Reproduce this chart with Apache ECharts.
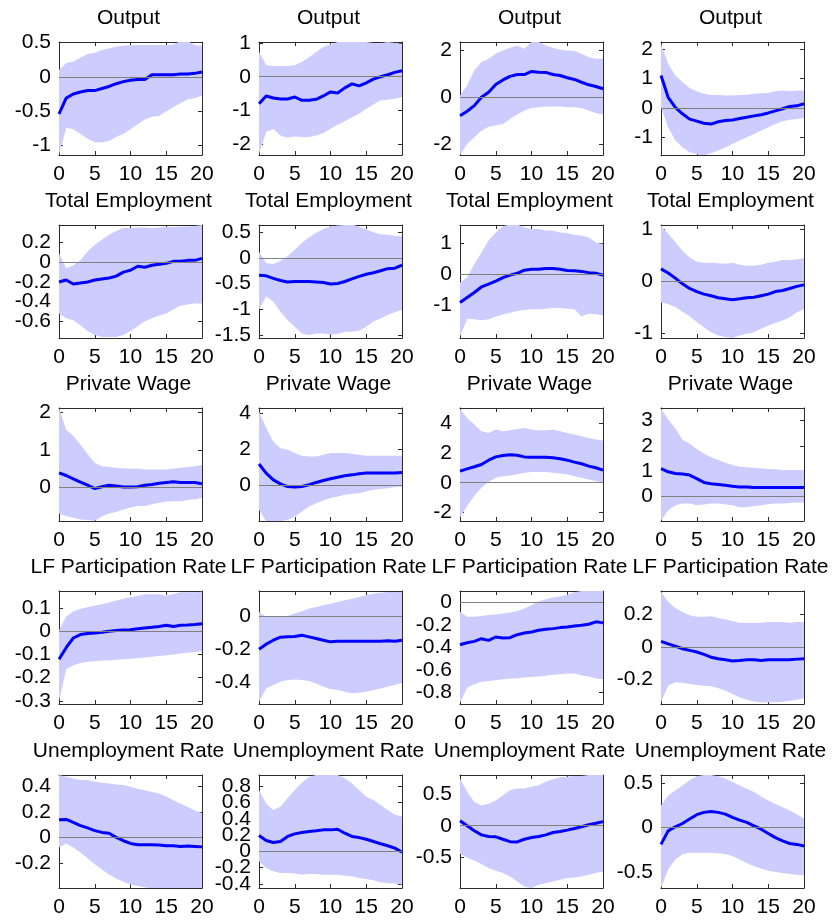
<!DOCTYPE html>
<html>
<head>
<meta charset="utf-8">
<script src="https://cdn.jsdelivr.net/npm/echarts@6/dist/echarts.min.js"></script>
<style>
html,body{margin:0;padding:0;background:#fff;}
#chart{width:834px;height:922px;}
</style>
</head>
<body>
<div id="chart"></div>
<script>
// Horizon (quarters)
const horizon = ['0','1','2','3','4','5','6','7','8','9','10','11','12','13','14','15','16','17','18','19','20'];
const rowTitles = ['Output','Total Employment','Private Wage','LF Participation Rate','Unemployment Rate'];

// ---- Output ----
const outputMid1 = [-0.54,-0.31,-0.25,-0.22,-0.2,-0.2,-0.17,-0.14,-0.1,-0.07,-0.05,-0.04,-0.04,0.03,0.03,0.03,0.03,0.04,0.04,0.05,0.07];
const outputHi1  = [0.1,0.2,0.22,0.28,0.33,0.35,0.39,0.41,0.44,0.45,0.46,0.46,0.46,0.46,0.46,0.46,0.47,0.52,0.52,0.46,0.45];
const outputLo1  = [-1.13,-0.74,-0.76,-0.83,-0.9,-0.95,-0.95,-0.93,-0.87,-0.83,-0.76,-0.69,-0.62,-0.58,-0.57,-0.5,-0.44,-0.38,-0.33,-0.31,-0.27];
const outputMid2 = [-0.8,-0.57,-0.63,-0.66,-0.66,-0.6,-0.7,-0.7,-0.67,-0.57,-0.45,-0.48,-0.33,-0.21,-0.27,-0.18,-0.07,0,0.06,0.13,0.18];
const outputHi2  = [0.75,0.34,0.32,0.32,0.32,0.34,0.44,0.58,0.73,0.88,0.96,1.03,1.03,1.03,1.03,1.03,1.0,0.99,1.03,1.0,0.98];
const outputLo2  = [-2.29,-1.64,-1.54,-1.74,-1.81,-1.77,-1.79,-1.79,-1.74,-1.67,-1.54,-1.42,-1.32,-1.2,-1.1,-0.95,-0.82,-0.7,-0.68,-0.65,-0.6];
const outputMid3 = [-0.79,-0.6,-0.36,0,0.21,0.54,0.74,0.89,0.97,0.97,1.1,1.07,1.06,0.97,0.93,0.83,0.76,0.64,0.53,0.46,0.36];
const outputHi3  = [0.07,0.5,1.14,1.5,1.64,1.86,2.0,2.11,2.21,2.07,2.36,2.36,2.21,2.11,2.03,2.0,1.97,1.86,1.71,1.64,1.64];
const outputLo3  = [-2.47,-2.0,-1.71,-1.43,-1.26,-1.21,-1.14,-0.93,-0.74,-0.57,-0.46,-0.43,-0.4,-0.4,-0.4,-0.43,-0.43,-0.46,-0.57,-0.67,-0.74];
const outputMid4 = [1.1,0.36,0.02,-0.2,-0.38,-0.45,-0.52,-0.55,-0.47,-0.43,-0.41,-0.36,-0.32,-0.27,-0.23,-0.17,-0.1,-0.03,0.05,0.07,0.14];
const outputHi4  = [2.18,1.5,1.1,0.88,0.68,0.57,0.48,0.44,0.44,0.42,0.42,0.44,0.45,0.48,0.5,0.51,0.57,0.59,0.57,0.59,0.59];
const outputLo4  = [0.02,-0.66,-1.11,-1.34,-1.51,-1.57,-1.62,-1.54,-1.45,-1.34,-1.23,-1.11,-1.0,-0.89,-0.77,-0.66,-0.55,-0.45,-0.4,-0.38,-0.34];

// ---- Total Employment ----
const employMid1 = [-0.2,-0.18,-0.22,-0.21,-0.2,-0.18,-0.17,-0.16,-0.14,-0.1,-0.08,-0.04,-0.05,-0.03,-0.02,-0.01,0.01,0.01,0.02,0.02,0.04];
const employHi1  = [0.09,-0.06,-0.03,0.02,0.11,0.18,0.23,0.28,0.32,0.35,0.35,0.355,0.355,0.35,0.355,0.36,0.36,0.365,0.365,0.37,0.38];
const employLo1  = [-0.52,-0.57,-0.59,-0.64,-0.7,-0.74,-0.76,-0.76,-0.76,-0.74,-0.7,-0.65,-0.6,-0.57,-0.54,-0.52,-0.48,-0.44,-0.43,-0.42,-0.42];
const employMid2 = [-0.34,-0.35,-0.4,-0.44,-0.47,-0.46,-0.46,-0.46,-0.47,-0.48,-0.51,-0.5,-0.46,-0.41,-0.36,-0.32,-0.29,-0.25,-0.21,-0.2,-0.14];
const employHi2  = [0.12,-0.1,-0.12,-0.06,0.03,0.16,0.29,0.4,0.49,0.56,0.61,0.63,0.64,0.65,0.61,0.55,0.5,0.46,0.45,0.43,0.42];
const employLo2  = [-1.01,-0.75,-0.85,-1.05,-1.21,-1.34,-1.47,-1.5,-1.47,-1.47,-1.49,-1.48,-1.44,-1.44,-1.42,-1.34,-1.24,-1.18,-1.11,-1.06,-1.01];
const employMid3 = [-0.91,-0.75,-0.59,-0.41,-0.32,-0.22,-0.11,-0.03,0.03,0.13,0.16,0.16,0.18,0.18,0.16,0.12,0.11,0.09,0.05,0.03,-0.03];
const employHi3  = [-0.27,-0.11,0.32,0.7,1.08,1.34,1.54,1.6,1.6,1.5,1.45,1.45,1.4,1.4,1.34,1.32,1.26,1.24,1.18,1.02,0.97];
const employLo3  = [-2.0,-1.43,-1.45,-1.48,-1.45,-1.37,-1.29,-1.24,-1.18,-1.15,-1.13,-1.13,-1.11,-1.09,-1.09,-1.11,-1.13,-1.35,-1.27,-1.29,-1.32];
const employMid4 = [0.24,0.16,0.06,-0.05,-0.14,-0.2,-0.25,-0.28,-0.32,-0.34,-0.36,-0.34,-0.32,-0.31,-0.28,-0.25,-0.2,-0.18,-0.14,-0.1,-0.07];
const employHi4  = [1.08,0.92,0.76,0.59,0.46,0.38,0.36,0.36,0.35,0.34,0.36,0.32,0.3,0.3,0.32,0.36,0.38,0.41,0.41,0.42,0.45];
const employLo4  = [-0.41,-0.44,-0.5,-0.59,-0.68,-0.79,-0.89,-0.99,-1.05,-1.08,-1.1,-1.05,-1.02,-0.99,-0.92,-0.86,-0.81,-0.76,-0.7,-0.6,-0.54];

// ---- Private Wage ----
const wageMid1 = [0.38,0.31,0.22,0.13,0.05,-0.04,0.01,0.05,0.03,0,0,0.01,0.05,0.07,0.1,0.12,0.14,0.12,0.12,0.12,0.09];
const wageHi1  = [2.12,1.54,1.37,1.14,0.88,0.65,0.56,0.54,0.52,0.5,0.5,0.49,0.47,0.47,0.47,0.47,0.5,0.52,0.54,0.56,0.59];
const wageLo1  = [-0.71,-0.78,-0.82,-0.87,-0.88,-0.91,-0.78,-0.71,-0.67,-0.6,-0.55,-0.51,-0.51,-0.46,-0.42,-0.39,-0.38,-0.38,-0.35,-0.33,-0.29];
const wageMid2 = [1.19,0.69,0.31,0.09,-0.06,-0.09,-0.06,0.04,0.17,0.28,0.37,0.46,0.54,0.59,0.65,0.69,0.69,0.69,0.69,0.7,0.72];
const wageHi2  = [4.1,3.2,2.44,2.07,1.98,1.8,1.65,1.61,1.61,1.7,1.8,1.8,1.8,1.76,1.7,1.65,1.65,1.65,1.65,1.65,1.65];
const wageLo2  = [-1.35,-2.0,-2.0,-2.0,-1.9,-1.72,-1.44,-1.17,-0.98,-0.83,-0.7,-0.61,-0.52,-0.46,-0.43,-0.33,-0.24,-0.2,-0.15,-0.09,-0.06];
const wageMid3 = [0.78,0.93,1.07,1.22,1.51,1.73,1.82,1.87,1.84,1.73,1.71,1.71,1.71,1.67,1.6,1.51,1.38,1.27,1.11,1.0,0.84];
const wageHi3  = [4.93,4.33,3.89,3.44,3.33,3.56,3.44,3.51,3.6,3.67,3.56,3.51,3.51,3.56,3.44,3.33,3.22,3.11,3.0,2.89,2.82];
const wageLo3  = [-2.33,-1.56,-0.89,-0.33,0.07,0.33,0.44,0.49,0.56,0.67,0.71,0.71,0.71,0.67,0.62,0.56,0.44,0.33,0.22,0.11,0];
const wageMid4 = [1.1,0.97,0.9,0.88,0.84,0.7,0.55,0.5,0.47,0.44,0.4,0.37,0.37,0.35,0.35,0.35,0.35,0.35,0.35,0.35,0.35];
const wageHi4  = [3.47,3.04,2.7,2.24,2.08,1.87,1.7,1.55,1.44,1.33,1.24,1.17,1.15,1.13,1.1,1.08,1.07,1.04,1.04,1.04,1.04];
const wageLo4  = [-0.96,-0.56,-0.36,-0.29,-0.29,-0.36,-0.33,-0.29,-0.29,-0.33,-0.36,-0.43,-0.43,-0.39,-0.36,-0.32,-0.29,-0.29,-0.27,-0.25,-0.25];

// ---- LF Participation Rate ----
const lfprMid1 = [-0.121,-0.071,-0.029,-0.014,-0.01,-0.007,-0.004,0,0.003,0.006,0.007,0.011,0.014,0.017,0.021,0.026,0.021,0.026,0.027,0.029,0.033];
const lfprHi1  = [0.003,0.064,0.086,0.097,0.104,0.111,0.117,0.124,0.133,0.14,0.147,0.154,0.16,0.16,0.16,0.154,0.161,0.169,0.169,0.169,0.171];
const lfprLo1  = [-0.3,-0.164,-0.147,-0.137,-0.131,-0.129,-0.126,-0.126,-0.123,-0.121,-0.119,-0.116,-0.113,-0.11,-0.107,-0.103,-0.1,-0.096,-0.093,-0.089,-0.086];
const lfprMid2 = [-0.2,-0.17,-0.146,-0.128,-0.126,-0.124,-0.116,-0.126,-0.136,-0.146,-0.156,-0.152,-0.152,-0.152,-0.152,-0.152,-0.152,-0.152,-0.15,-0.152,-0.146];
const lfprHi2  = [0.024,-0.006,-0.006,-0.002,0,0.014,0.028,0.044,0.054,0.064,0.074,0.084,0.094,0.104,0.114,0.124,0.134,0.14,0.144,0.144,0.144];
const lfprLo2  = [-0.516,-0.436,-0.416,-0.396,-0.386,-0.382,-0.386,-0.392,-0.406,-0.426,-0.44,-0.446,-0.456,-0.466,-0.462,-0.456,-0.446,-0.436,-0.426,-0.416,-0.402];
const lfprMid3 = [-0.376,-0.358,-0.346,-0.322,-0.337,-0.307,-0.316,-0.313,-0.287,-0.272,-0.263,-0.248,-0.239,-0.233,-0.224,-0.218,-0.209,-0.203,-0.194,-0.173,-0.182];
const lfprHi3  = [-0.084,-0.128,-0.128,-0.122,-0.113,-0.107,-0.099,-0.09,-0.078,-0.054,-0.024,0.006,0.027,0.042,0.051,0.066,0.09,0.1,0.1,0.1,0.1];
const lfprLo3  = [-0.89,-0.755,-0.725,-0.704,-0.696,-0.69,-0.68,-0.675,-0.672,-0.666,-0.66,-0.657,-0.65,-0.642,-0.636,-0.63,-0.63,-0.645,-0.657,-0.675,-0.68];
const lfprMid4 = [0.035,0.02,0.006,-0.01,-0.02,-0.03,-0.045,-0.062,-0.072,-0.078,-0.085,-0.082,-0.078,-0.078,-0.082,-0.078,-0.078,-0.078,-0.078,-0.074,-0.072];
const lfprHi4  = [0.34,0.278,0.241,0.216,0.196,0.186,0.186,0.19,0.179,0.171,0.159,0.15,0.148,0.148,0.15,0.155,0.155,0.155,0.15,0.155,0.155];
const lfprLo4  = [-0.34,-0.237,-0.216,-0.22,-0.227,-0.233,-0.237,-0.241,-0.252,-0.268,-0.289,-0.309,-0.324,-0.334,-0.34,-0.34,-0.34,-0.336,-0.33,-0.324,-0.315];

// ---- Unemployment Rate ----
const unempMid1 = [0.137,0.14,0.118,0.092,0.074,0.053,0.039,0.032,0,-0.026,-0.047,-0.058,-0.058,-0.058,-0.06,-0.066,-0.066,-0.071,-0.068,-0.071,-0.074];
const unempHi1  = [0.487,0.474,0.46,0.447,0.447,0.434,0.426,0.42,0.413,0.408,0.395,0.38,0.368,0.355,0.342,0.32,0.29,0.263,0.237,0.21,0.19];
const unempLo1  = [-0.079,-0.047,-0.079,-0.118,-0.163,-0.21,-0.25,-0.29,-0.32,-0.347,-0.368,-0.38,-0.39,-0.4,-0.4,-0.4,-0.4,-0.4,-0.4,-0.4,-0.4];
const unempMid2 = [0.196,0.135,0.11,0.122,0.184,0.216,0.233,0.245,0.253,0.265,0.265,0.273,0.224,0.184,0.17,0.15,0.122,0.094,0.07,0.04,-0.01];
const unempHi2  = [0.755,0.59,0.51,0.55,0.653,0.755,0.845,0.92,0.94,0.94,0.94,0.94,0.9,0.837,0.755,0.673,0.633,0.57,0.51,0.45,0.43];
const unempLo2  = [-0.122,-0.204,-0.245,-0.265,-0.265,-0.273,-0.286,-0.278,-0.278,-0.286,-0.286,-0.286,-0.298,-0.306,-0.327,-0.339,-0.355,-0.38,-0.388,-0.396,-0.408];
const unempMid3 = [0.08,0,-0.08,-0.145,-0.172,-0.177,-0.215,-0.253,-0.258,-0.215,-0.188,-0.172,-0.145,-0.108,-0.091,-0.07,-0.043,-0.016,0.016,0.038,0.065];
const unempHi3  = [0.75,0.54,0.376,0.32,0.35,0.4,0.484,0.565,0.59,0.59,0.62,0.645,0.7,0.737,0.77,0.78,0.79,0.79,0.806,0.806,0.806];
const unempLo3  = [-0.446,-0.51,-0.554,-0.608,-0.672,-0.715,-0.753,-0.806,-0.887,-0.968,-0.99,-0.94,-0.914,-0.887,-0.86,-0.833,-0.823,-0.806,-0.78,-0.753,-0.726];
const unempMid4 = [-0.19,-0.038,0.008,0.045,0.095,0.144,0.17,0.18,0.17,0.15,0.114,0.083,0.057,0.019,-0.019,-0.068,-0.114,-0.15,-0.18,-0.19,-0.208];
const unempHi4  = [0.246,0.36,0.417,0.473,0.53,0.576,0.59,0.59,0.576,0.55,0.51,0.473,0.436,0.4,0.348,0.303,0.265,0.227,0.19,0.15,0.102];
const unempLo4  = [-0.68,-0.47,-0.36,-0.3,-0.284,-0.284,-0.284,-0.284,-0.29,-0.3,-0.32,-0.36,-0.4,-0.436,-0.462,-0.485,-0.5,-0.511,-0.523,-0.53,-0.538];

// ---- Y tick labels per panel ----
const outputTicks = [[-1,-0.5,0,0.5],[-2,-1,0,1],[-2,0,2],[-1,0,1,2]];
const employTicks = [[-0.6,-0.4,-0.2,0,0.2],[-1.5,-1,-0.5,0,0.5],[-1,0,1],[-1,0,1]];
const wageTicks   = [[0,1,2],[0,2,4],[-2,0,2,4],[0,1,2,3]];
const lfprTicks   = [[-0.3,-0.2,-0.1,0,0.1],[-0.4,-0.2,0],[-0.8,-0.6,-0.4,-0.2,0],[-0.2,0,0.2]];
const unempTicks  = [[-0.2,0,0.2,0.4],[-0.4,-0.2,0,0.2,0.4,0.6,0.8],[-0.5,0,0.5],[-0.5,0,0.5]];

// ---- Y axis limits per panel [min, max] ----
const outputLims = [[-1.135,0.505],[-2.32,1.03],[-2.47,2.36],[-1.6,2.24]];
const employLims = [[-0.77,0.38],[-1.56,0.64],[-2.05,1.58],[-1.1,1.09]];
const wageLims   = [[-0.91,2.12],[-1.97,4.3],[-2.56,5.0],[-0.98,3.5]];
const lfprLims   = [[-0.314,0.174],[-0.53,0.15],[-0.9,0.1],[-0.35,0.345]];
const unempLims  = [[-0.395,0.487],[-0.45,0.94],[-0.99,0.806],[-0.68,0.59]];

// Assemble rows from the named arrays
const rowsData = [
  {mid:[outputMid1,outputMid2,outputMid3,outputMid4], lo:[outputLo1,outputLo2,outputLo3,outputLo4], hi:[outputHi1,outputHi2,outputHi3,outputHi4], ticks:outputTicks, lims:outputLims},
  {mid:[employMid1,employMid2,employMid3,employMid4], lo:[employLo1,employLo2,employLo3,employLo4], hi:[employHi1,employHi2,employHi3,employHi4], ticks:employTicks, lims:employLims},
  {mid:[wageMid1,wageMid2,wageMid3,wageMid4], lo:[wageLo1,wageLo2,wageLo3,wageLo4], hi:[wageHi1,wageHi2,wageHi3,wageHi4], ticks:wageTicks, lims:wageLims},
  {mid:[lfprMid1,lfprMid2,lfprMid3,lfprMid4], lo:[lfprLo1,lfprLo2,lfprLo3,lfprLo4], hi:[lfprHi1,lfprHi2,lfprHi3,lfprHi4], ticks:lfprTicks, lims:lfprLims},
  {mid:[unempMid1,unempMid2,unempMid3,unempMid4], lo:[unempLo1,unempLo2,unempLo3,unempLo4], hi:[unempHi1,unempHi2,unempHi3,unempHi4], ticks:unempTicks, lims:unempLims}
];

// Layout
const colLeft = [59, 259, 460, 661];
const rowTop = [42, 225, 408, 591, 775];
const plotW = 143, plotH = 113;
const FONT = 'Liberation Sans, Arial, Helvetica, sans-serif';
const FS = 21;
const axisColor = '#2b2b2b';
const bandColor = '#ccccff';
const lineColor = '#0000ff';

const grids = [], xAxes = [], yAxes = [], series = [], titles = [];
let g = 0;
rowsData.forEach((row, r) => {
  for (let c = 0; c < 4; c++) {
    grids.push({left: colLeft[c], top: rowTop[r], width: plotW, height: plotH, containLabel: false});
    titles.push({
      text: rowTitles[r],
      left: colLeft[c] + plotW / 2 - 2,
      top: rowTop[r] - 34,
      textAlign: 'center',
      padding: 0,
      textStyle: {fontFamily: FONT, fontSize: FS, fontWeight: 'normal', color: '#000'}
    });
    const commonX = {
      gridIndex: g, type: 'category', data: horizon, boundaryGap: false,
      axisLine: {show: true, onZero: false, lineStyle: {color: axisColor, width: 1}},
      axisTick: {show: true, inside: true, length: 4, interval: 4, lineStyle: {color: axisColor}},
      splitLine: {show: false}
    };
    xAxes.push(Object.assign({}, commonX, {position: 'bottom',
      axisLabel: {show: true, interval: 4, fontFamily: FONT, fontSize: FS, color: '#000', margin: 9}}));
    xAxes.push(Object.assign({}, commonX, {position: 'top', axisLabel: {show: false, interval: 4}}));

    const lim = row.lims[c], tk = row.ticks[c];
    // labels split over two overlaid left axes so that tightly packed labels are all kept
    const tkA = tk.filter((v, i) => i % 2 === 0);
    const tkB = tk.filter((v, i) => i % 2 === 1);
    const labelStyle = {fontFamily: FONT, fontSize: FS, color: '#000', margin: 8,
      showMinLabel: true, showMaxLabel: true, hideOverlap: false};
    const commonY = {
      gridIndex: g, type: 'value', min: lim[0], max: lim[1],
      splitLine: {show: false}
    };
    // main left axis: line + all ticks + even labels
    yAxes.push(Object.assign({}, commonY, {position: 'left',
      axisLine: {show: true, onZero: false, lineStyle: {color: axisColor, width: 1}},
      axisTick: {show: true, inside: true, length: 4, customValues: tk, lineStyle: {color: axisColor}},
      axisLabel: Object.assign({show: true, customValues: tkA}, labelStyle)}));
    // overlay left axis: odd labels only
    yAxes.push(Object.assign({}, commonY, {position: 'left',
      axisLine: {show: false, onZero: false},
      axisTick: {show: false},
      axisLabel: Object.assign({show: tkB.length > 0, customValues: tkB.length ? tkB : [0]}, labelStyle)}));
    // right axis: box line + ticks
    yAxes.push(Object.assign({}, commonY, {position: 'right',
      axisLine: {show: true, onZero: false, lineStyle: {color: axisColor, width: 1}},
      axisTick: {show: true, inside: true, length: 4, customValues: tk, lineStyle: {color: axisColor}},
      axisLabel: {show: false}}));

    const xi = 2 * g, yi = 3 * g;
    const lo = row.lo[c], hi = row.hi[c], mid = row.mid[c];
    series.push({
      type: 'line', xAxisIndex: xi, yAxisIndex: yi, stack: 'band' + g, stackStrategy: 'all',
      data: lo.slice(),
      symbol: 'none', lineStyle: {width: 0, opacity: 0}, silent: true, z: 1
    });
    series.push({
      type: 'line', xAxisIndex: xi, yAxisIndex: yi, stack: 'band' + g, stackStrategy: 'all',
      data: hi.map((v, i) => v - lo[i]),
      symbol: 'none', lineStyle: {width: 0, opacity: 0},
      areaStyle: {color: bandColor, opacity: 1}, silent: true, z: 1,
      markLine: {
        silent: true, symbol: ['none', 'none'], animation: false,
        label: {show: false},
        lineStyle: {color: '#808080', width: 1, type: 'solid'},
        data: [{yAxis: 0}]
      }
    });
    series.push({
      type: 'line', xAxisIndex: xi, yAxisIndex: yi,
      data: mid.slice(),
      symbol: 'none', lineStyle: {color: lineColor, width: 3}, z: 3, silent: true
    });
    g++;
  }
});

const chart = echarts.init(document.getElementById('chart'), null, {renderer: 'canvas'});
chart.setOption({
  animation: false,
  backgroundColor: '#fff',
  title: titles,
  grid: grids,
  xAxis: xAxes,
  yAxis: yAxes,
  series: series
});
</script>
</body>
</html>
